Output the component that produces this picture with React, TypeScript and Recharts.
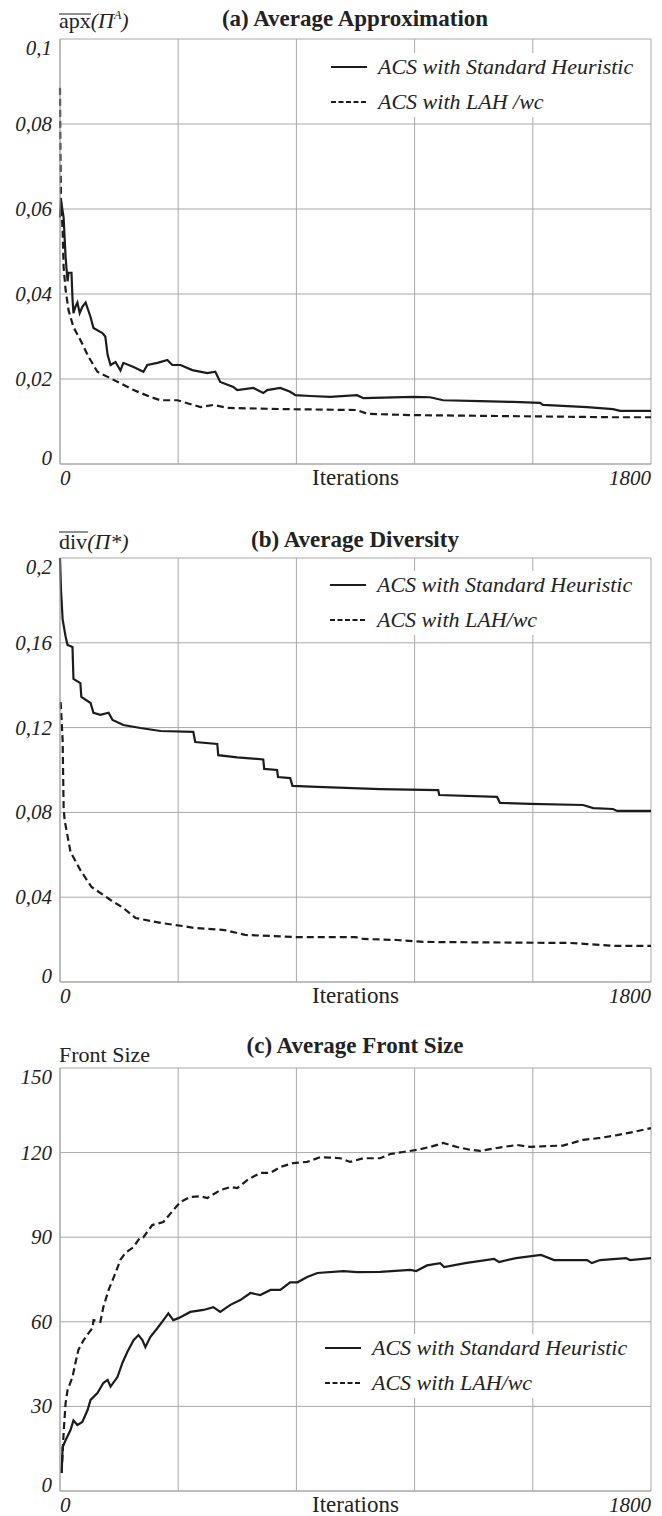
import React from 'react';
import { LineChart, Line, XAxis, YAxis, CartesianGrid } from 'recharts';

const FONT = '"Liberation Serif", "Times New Roman", serif';
const INK = '#1c1c1c';
const TEXT = '#222';
const GRID = '#a8a8a8';

const ITER_TICKS = [0, 360, 720, 1080, 1440, 1800];

// (a) average approximation
const APX_TICKS = [0, 0.02, 0.04, 0.06, 0.08, 0.1];
const apxStdIter = [0, 3, 11, 17, 23, 26, 35, 38, 41, 47, 53, 60, 68, 78, 93, 102, 129, 138, 145, 154, 169, 184, 193, 224, 254, 266, 297, 327, 342, 367, 403, 449, 473, 488, 528, 540, 589, 619, 631, 671, 701, 717, 762, 823, 905, 924, 1076, 1127, 1167, 1280, 1380, 1462, 1471, 1605, 1684, 1706, 1800];
const apxStdVal = [0.058, 0.062, 0.058, 0.0487, 0.043, 0.045, 0.045, 0.039, 0.0355, 0.037, 0.038, 0.0355, 0.037, 0.038, 0.0346, 0.032, 0.0308, 0.03, 0.0257, 0.0233, 0.024, 0.022, 0.0238, 0.0228, 0.0217, 0.0233, 0.0238, 0.0245, 0.0233, 0.0233, 0.0221, 0.0214, 0.0217, 0.0193, 0.0181, 0.0174, 0.0179, 0.0167, 0.0174, 0.0179, 0.017, 0.0162, 0.016, 0.0158, 0.0162, 0.0155, 0.0158, 0.0157, 0.015, 0.0148, 0.0146, 0.0144, 0.0139, 0.0134, 0.0129, 0.0125, 0.0125];
const apxLahIter = [0, 1, 3, 8, 11, 17, 26, 41, 62, 87, 114, 145, 184, 224, 275, 306, 358, 388, 428, 467, 510, 692, 905, 936, 1076, 1331, 1684, 1800];
const apxLahVal = [0.0885, 0.075, 0.062, 0.055, 0.0464, 0.041, 0.0362, 0.0322, 0.0292, 0.0252, 0.0217, 0.0205, 0.019, 0.0174, 0.0158, 0.015, 0.015, 0.0143, 0.0134, 0.0139, 0.0132, 0.0129, 0.0127, 0.0118, 0.0115, 0.0113, 0.011, 0.011];

// (b) average diversity
const DIV_TICKS = [0, 0.04, 0.08, 0.12, 0.16, 0.2];
const divStdIter = [0, 3, 8, 17, 23, 38, 41, 62, 65, 93, 102, 123, 148, 160, 193, 245, 306, 406, 412, 479, 482, 540, 619, 622, 661, 664, 701, 708, 784, 975, 1152, 1155, 1331, 1340, 1432, 1593, 1624, 1684, 1697, 1800];
const divStdVal = [0.2, 0.185, 0.171, 0.163, 0.159, 0.158, 0.143, 0.141, 0.1345, 0.1316, 0.127, 0.126, 0.127, 0.1236, 0.1212, 0.1198, 0.1184, 0.118, 0.1132, 0.1123, 0.107, 0.106, 0.105, 0.1005, 0.1, 0.0967, 0.0962, 0.0925, 0.092, 0.091, 0.0905, 0.0882, 0.0873, 0.0845, 0.084, 0.0835, 0.082, 0.0816, 0.0807, 0.0807];
const divLahIter = [2, 8, 11, 14, 32, 62, 96, 154, 192, 230, 309, 373, 409, 501, 564, 720, 899, 924, 1027, 1106, 1553, 1605, 1697, 1800];
const divLahVal = [0.132, 0.114, 0.0825, 0.0764, 0.0613, 0.0528, 0.0448, 0.0387, 0.035, 0.0302, 0.0278, 0.0264, 0.0255, 0.0245, 0.0222, 0.0212, 0.0212, 0.0203, 0.0198, 0.0189, 0.0184, 0.0179, 0.017, 0.017];

// (c) average front size
const FRONT_TICKS = [0, 30, 60, 90, 120, 150];
const frontStdIter = [5, 8, 17, 32, 41, 53, 68, 84, 93, 114, 132, 145, 154, 175, 190, 205, 224, 239, 251, 260, 275, 297, 315, 330, 345, 361, 397, 437, 467, 488, 519, 549, 580, 610, 641, 671, 701, 723, 753, 784, 863, 905, 975, 1067, 1085, 1118, 1158, 1170, 1234, 1322, 1337, 1389, 1465, 1505, 1605, 1620, 1645, 1724, 1736, 1800];
const frontStdVal = [6.4, 15.6, 18, 21.6, 25, 23.4, 24.5, 28.7, 32.3, 34.7, 38.3, 39.4, 37, 40.4, 45.4, 49.3, 53.5, 55.3, 53.5, 51, 54.6, 57.8, 60.6, 63, 60.6, 61.3, 63.5, 64.2, 65.2, 63.5, 66, 67.7, 70.2, 69.5, 71.3, 71.3, 74, 74, 75.9, 77.3, 78, 77.6, 77.7, 78.4, 78, 80, 80.8, 79.4, 80.8, 82.3, 81.2, 82.6, 83.7, 81.9, 81.9, 80.8, 81.9, 82.6, 81.9, 82.6];
const frontLahIter = [5, 11, 17, 23, 38, 47, 56, 72, 87, 99, 102, 123, 132, 148, 169, 184, 199, 224, 243, 254, 281, 315, 345, 367, 397, 428, 449, 488, 519, 540, 571, 610, 641, 671, 711, 753, 793, 823, 854, 884, 924, 975, 1006, 1045, 1088, 1127, 1167, 1209, 1249, 1280, 1350, 1392, 1432, 1483, 1532, 1593, 1645, 1697, 1745, 1800];
const frontLahVal = [6.4, 20.6, 31.2, 35.8, 40.4, 45.4, 50, 53.5, 56, 57.8, 60.6, 60, 65.2, 71.3, 77.3, 82, 84.4, 86.5, 89.7, 90, 94.3, 95.4, 99.6, 102.5, 104.3, 104.5, 103.9, 106.7, 107.8, 107.4, 110.3, 112.8, 112.8, 114.9, 116.3, 116.7, 118.4, 118.2, 118, 116.7, 118, 118, 119.5, 120.2, 121, 122, 123.4, 122, 121, 120.6, 122, 122.7, 122, 122.3, 122.5, 124.5, 125.2, 126.2, 127.3, 128.7];

const NAMES_A = ['ACS with Standard Heuristic', 'ACS with LAH /wc'];
const NAMES = ['ACS with Standard Heuristic', 'ACS with LAH/wc'];

const zip = (xs: number[], ys: number[]) => xs.map((x, i) => ({ iter: x, v: ys[i] }));
const fmt = (v: number) => String(v).replace('.', ',');

function YTick(props: any) {
  const { x, y, payload, lo, hi } = props;
  const v = payload.value;
  const shift = v === hi ? 9 : v === lo ? -6 : 0;
  return (
    <text x={x} y={y + shift} dy={7} textAnchor="end" fontFamily={FONT} fontStyle="italic" fontSize={21} fill={TEXT}>
      {fmt(v)}
    </text>
  );
}

function XTick(props: any) {
  const { x, y, payload } = props;
  const v = payload.value;
  if (v !== 0 && v !== 1800) return <g />;
  return (
    <text x={x} y={y} dy={13} textAnchor={v === 0 ? 'start' : 'end'} fontFamily={FONT} fontStyle="italic" fontSize={21} fill={TEXT}>
      {v}
    </text>
  );
}

type PanelProps = {
  plotTop: number;
  plotH: number;
  ticks: number[];
  std: { iter: number; v: number }[];
  lah: { iter: number; v: number }[];
  names: string[];
  legendY: number;
  legendX: number;
};

function Panel({ plotTop, plotH, ticks, std, lah, names, legendY, legendX }: PanelProps) {
  const lo = ticks[0];
  const hi = ticks[ticks.length - 1];
  return (
    <>
      <div style={{ position: 'absolute', left: 0, top: plotTop - 10 }}>
        <LineChart width={662} height={plotH + 50} margin={{ top: 10, right: 11, left: 0, bottom: 0 }}>
          <CartesianGrid stroke={GRID} strokeWidth={1} />
          <XAxis
            dataKey="iter"
            type="number"
            domain={[0, 1800]}
            ticks={ITER_TICKS}
            interval={0}
            tickLine={false}
            axisLine={{ stroke: GRID }}
            height={40}
            tick={<XTick />}
            label={{ value: 'Iterations', position: 'insideTop', offset: 5, fill: TEXT, fontSize: 23, fontFamily: FONT }}
          />
          <YAxis
            type="number"
            domain={[lo, hi]}
            ticks={ticks}
            interval={0}
            tickLine={false}
            axisLine={{ stroke: GRID }}
            width={60}
            tick={<YTick lo={lo} hi={hi} />}
          />
          <Line data={std} dataKey="v" name={names[0]} type="linear" stroke={INK} strokeWidth={2.2} dot={false} isAnimationActive={false} />
          <Line data={lah} dataKey="v" name={names[1]} type="linear" stroke={INK} strokeWidth={2.2} strokeDasharray="7 4" dot={false} isAnimationActive={false} />
        </LineChart>
      </div>
      <div
        style={{
          position: 'absolute',
          left: legendX - 8,
          top: legendY - 14,
          width: 646 - (legendX - 8),
          height: 64,
          background: '#fff',
        }}
      >
        {names.map((n, i) => (
          <div key={n} style={{ position: 'absolute', left: 0, top: i * 35, height: 28, width: '100%' }}>
            <svg width={46} height={28} style={{ position: 'absolute', left: 8, top: 0 }}>
              <line x1={0} x2={36} y1={14} y2={14} stroke={INK} strokeWidth={2.2} strokeDasharray={i === 1 ? '5 2.5' : undefined} />
            </svg>
            <span
              style={{
                position: 'absolute',
                left: 55,
                top: 0,
                lineHeight: '28px',
                fontFamily: FONT,
                fontStyle: 'italic',
                fontSize: 22,
                color: TEXT,
                whiteSpace: 'nowrap',
              }}
            >
              {n}
            </span>
          </div>
        ))}
      </div>
    </>
  );
}

const titleStyle = { fontFamily: FONT, fontWeight: 700, fontSize: 23, fill: TEXT } as const;
const axisTitleStyle = { fontFamily: FONT, fontSize: 22, fill: TEXT } as const;

export default function App() {
  return (
    <div style={{ position: 'absolute', left: 0, top: 0, width: 662, height: 1516, background: '#fff', overflow: 'hidden' }}>
      <svg width={662} height={1516} style={{ position: 'absolute', left: 0, top: 0 }}>
        <text x={355} y={26} textAnchor="middle" {...titleStyle}>(a) Average Approximation</text>
        <text x={355} y={547} textAnchor="middle" {...titleStyle}>(b) Average Diversity</text>
        <text x={355} y={1053} textAnchor="middle" {...titleStyle}>(c) Average Front Size</text>

        <line x1={59} x2={91} y1={14} y2={14} stroke={TEXT} strokeWidth={1} />
        <text x={59} y={28} {...axisTitleStyle}>
          <tspan>apx</tspan>
          <tspan fontStyle="italic">(Π</tspan>
          <tspan fontStyle="italic" fontSize={12} dy={-9}>A</tspan>
          <tspan fontStyle="italic" dy={9}>)</tspan>
        </text>

        <line x1={59} x2={88} y1={532} y2={532} stroke={TEXT} strokeWidth={1} />
        <text x={59} y={549} {...axisTitleStyle}>
          <tspan>div</tspan>
          <tspan fontStyle="italic">(Π*)</tspan>
        </text>

        <text x={59} y={1062} {...axisTitleStyle}>Front Size</text>
      </svg>

      <Panel plotTop={39} plotH={425} ticks={APX_TICKS} std={zip(apxStdIter, apxStdVal)} lah={zip(apxLahIter, apxLahVal)} names={NAMES_A} legendY={67} legendX={331} />
      <Panel plotTop={558} plotH={424} ticks={DIV_TICKS} std={zip(divStdIter, divStdVal)} lah={zip(divLahIter, divLahVal)} names={NAMES} legendY={585} legendX={330} />
      <Panel plotTop={1068} plotH={423} ticks={FRONT_TICKS} std={zip(frontStdIter, frontStdVal)} lah={zip(frontLahIter, frontLahVal)} names={NAMES} legendY={1348} legendX={325} />
    </div>
  );
}
